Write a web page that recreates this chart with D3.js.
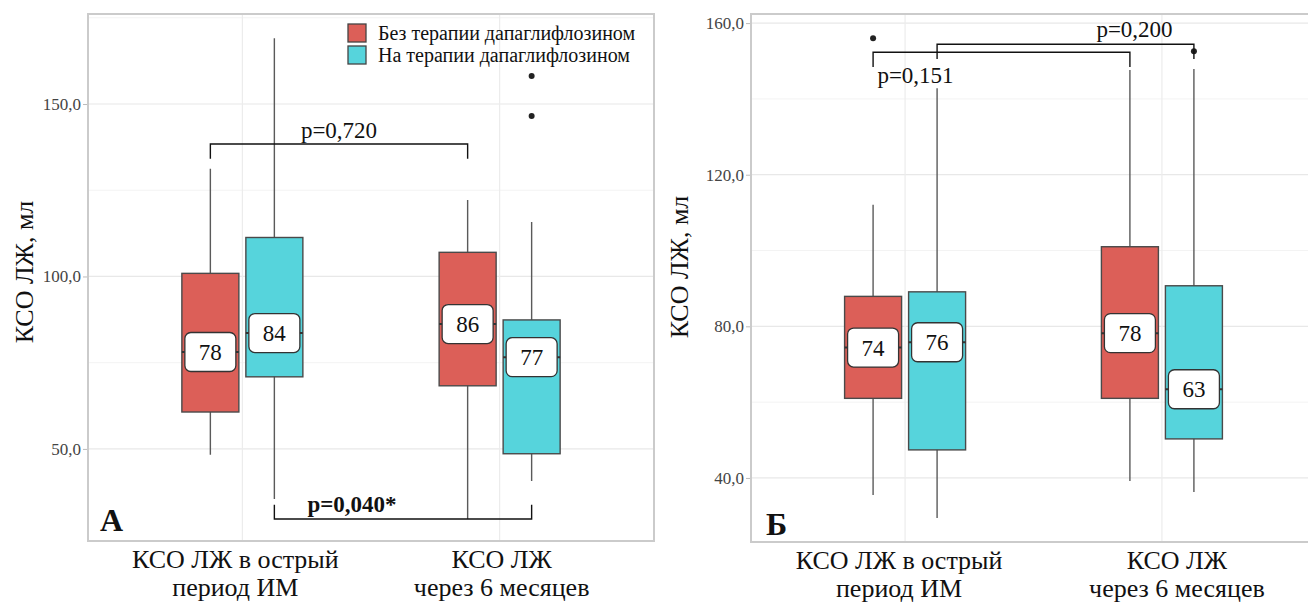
<!DOCTYPE html>
<html>
<head>
<meta charset="utf-8">
<script src="https://cdn.jsdelivr.net/npm/d3@7"></script>
<style>
	body { margin: 0; background: #fff; }
</style>
</head>
<body>
<svg id="chart" width="1308" height="603" font-family="Liberation Serif"></svg>
<script>

// categories and series
const groups = [['КСО ЛЖ в острый', 'период ИМ'], ['КСО ЛЖ', 'через 6 месяцев']];
const seriesNames = ['Без терапии дапаглифлозином', 'На терапии дапаглифлозином'];
const seriesColors = ['#dc5f58', '#56d4dc'];

// panel А: [lower whisker, Q1, median, Q3, upper whisker] per group
const aWithout = [[48.3, 60.7, 78.1, 100.9, 131.2], [29.7, 68.3, 86.2, 107.0, 122.2]];
const aWith = [[35.5, 70.9, 83.6, 111.3, 169.1], [40.7, 48.6, 76.6, 87.4, 115.8]];
const aOutWithout = [[], []];
const aOutWith = [[], [146.5, 158.1]];
const aTicks = [50, 100, 150];
const aMinor = [75, 125, 175];
const aDomain = [23.3, 176.1];
// [group1, series1, group2, series2, bar value, tip value, text value, text]
const aBrackets = [
	[0, 0, 1, 0, 138.4, 134.1, 140.1, 'p=0,720'],
	[0, 1, 1, 1, 29.7, 33.8, 31.7, 'p=0,040*']
];

// panel Б
const bWithout = [[35.5, 61.0, 74.4, 87.9, 112.1], [39.2, 61.0, 78.2, 101.0, 147.6]];
const bWith = [[29.4, 47.4, 75.8, 89.1, 142.8], [36.3, 50.3, 63.4, 90.7, 147.9]];
const bOutWithout = [[156.0], []];
const bOutWith = [[], [152.6]];
const bTicks = [40, 80, 120, 160];
const bMinor = [60, 100, 140];
const bDomain = [23.1, 162.4];
const bBrackets = [
	[0, 0, 1, 0, 152.3, 148.4, 144.2, 'p=0,151'],
	[0, 1, 1, 1, 154.4, 150.5, 156.3, 'p=0,200']
];

const FONT = 'Liberation Serif';

let svg = d3.select('#chart');
let ruFormat = d3.formatLocale({decimal: ',', thousands: ' ', grouping: [3], currency: ['', '']}).format('.1f');

function drawPanel(cfg) {

	let x = d3.scalePoint()
	.domain(d3.range(groups.length))
	.range([cfg.left, cfg.right])
	.padding(0.6);

	let y = d3.scaleLinear()
	.domain(cfg.domain)
	.range([cfg.bottom, cfg.top]);

	let g = svg.append('g');

	// clip to panel
	let clipId = 'clip' + cfg.id;
	svg.append('clipPath').attr('id', clipId)
	.append('rect')
	.attr('x', cfg.left).attr('y', cfg.top)
	.attr('width', cfg.right - cfg.left).attr('height', cfg.bottom - cfg.top);

	let plot = g.append('g').attr('clip-path', `url(#${clipId})`);

	plot.selectAll('.minor').data(cfg.minor).join('line')
	.attr('x1', cfg.left).attr('x2', cfg.right)
	.attr('y1', d => y(d)).attr('y2', d => y(d))
	.attr('stroke', '#f3f3f3').attr('stroke-width', 1);

	plot.selectAll('.major').data(cfg.ticks).join('line')
	.attr('x1', cfg.left).attr('x2', cfg.right)
	.attr('y1', d => y(d)).attr('y2', d => y(d))
	.attr('stroke', '#e8e8e8').attr('stroke-width', 1.2);

	plot.selectAll('.vgrid').data(d3.range(groups.length)).join('line')
	.attr('x1', d => x(d)).attr('x2', d => x(d))
	.attr('y1', cfg.top).attr('y2', cfg.bottom)
	.attr('stroke', '#ececec').attr('stroke-width', 1.2);

	let dodge = 32;
	let boxW = 57;

	cfg.series.forEach(function(stats, s) {
		let off = s === 0 ? -dodge : dodge;
		let bg = plot.append('g');
		stats.forEach(function(st, gi) {
			let cx = x(gi) + off;
			bg.append('line')
			.attr('x1', cx).attr('x2', cx)
			.attr('y1', y(st[0])).attr('y2', y(st[4]))
			.attr('stroke', '#5a5a5a').attr('stroke-width', 1.4);
			bg.append('rect')
			.attr('x', cx - boxW / 2).attr('width', boxW)
			.attr('y', y(st[3])).attr('height', y(st[1]) - y(st[3]))
			.attr('fill', seriesColors[s])
			.attr('stroke', '#4a4a4a').attr('stroke-width', 1.4);
			bg.append('line')
			.attr('x1', cx - boxW / 2).attr('x2', cx + boxW / 2)
			.attr('y1', y(st[2])).attr('y2', y(st[2]))
			.attr('stroke', '#333').attr('stroke-width', 2);
			bg.selectAll(null).data(cfg.outliers[s][gi]).join('circle')
			.attr('cx', cx).attr('cy', d => y(d)).attr('r', 3)
			.attr('fill', '#222');
			bg.append('rect')
			.attr('x', cx - 25.5).attr('width', 51)
			.attr('y', y(st[2]) - 19.5).attr('height', 39)
			.attr('rx', 6)
			.attr('fill', '#fff').attr('stroke', '#333').attr('stroke-width', 1.3);
			bg.append('text')
			.attr('x', cx).attr('y', y(st[2]) + 8)
			.attr('text-anchor', 'middle')
			.attr('font-family', FONT)
			.attr('font-size', 23)
			.attr('fill', '#111')
			.text(d3.format('.0f')(st[2]));
		});
	});

	// significance brackets
	cfg.brackets.forEach(function(b, i) {
		let x1 = x(b[0]) + (b[1] === 0 ? -dodge : dodge);
		let x2 = x(b[2]) + (b[3] === 0 ? -dodge : dodge);
		g.append('path')
		.attr('d', `M${x1},${y(b[5])}V${y(b[4])}H${x2}V${y(b[5])}`)
		.attr('fill', 'none').attr('stroke', '#111').attr('stroke-width', 1.4);
		g.append('text')
		.attr('x', (x1 + x2) / 2 + cfg.textShift[i])
		.attr('y', y(b[6]))
		.attr('text-anchor', 'middle')
		.attr('font-family', FONT)
		.attr('font-size', 23)
		.attr('font-weight', cfg.boldText[i] ? 'bold' : 'normal')
		.attr('fill', '#111')
		.text(b[7]);
	});

	// panel border
	g.append('rect')
	.attr('x', cfg.left).attr('y', cfg.top)
	.attr('width', cfg.right - cfg.left).attr('height', cfg.bottom - cfg.top)
	.attr('fill', 'none').attr('stroke', '#cbcbcb').attr('stroke-width', 2);

	// y axis
	let yAxis = g.append('g')
	.attr('transform', `translate(${cfg.left - 1},0)`)
	.call(d3.axisLeft(y).tickValues(cfg.ticks).tickFormat(ruFormat).tickSize(4).tickPadding(2));
	yAxis.attr('font-family', FONT);
	yAxis.select('.domain').remove();
	yAxis.selectAll('line').attr('stroke', '#bbb');
	yAxis.selectAll('text')
	.attr('font-size', 17)
	.attr('font-family', FONT)
	.attr('fill', '#444');

	// x labels
	groups.forEach(function(lines, gi) {
		let t = g.append('text')
		.attr('text-anchor', 'middle')
		.attr('font-family', FONT)
		.attr('font-size', 26)
		.attr('fill', '#111');
		lines.forEach(function(line, li) {
			t.append('tspan')
			.attr('x', x(gi) + cfg.labelShift[gi])
			.attr('y', cfg.bottom + 27 + li * 28)
			.text(line);
		});
	});

	g.append('text')
	.attr('transform', `translate(${cfg.titleX},${cfg.titleY}) rotate(-90)`)
	.attr('text-anchor', 'middle')
	.attr('font-family', FONT)
	.attr('font-size', 26)
	.attr('fill', '#111')
	.text('КСО ЛЖ, мл');

	g.append('text')
	.attr('x', cfg.left + cfg.tagX)
	.attr('y', cfg.bottom - cfg.tagY)
	.attr('font-family', FONT)
	.attr('font-size', 32)
	.attr('font-weight', 'bold')
	.attr('fill', '#111')
	.text(cfg.name);

	return g;
}

let panelA = drawPanel({
	id: 'a', name: 'А', left: 88, right: 654, top: 14, bottom: 541,
	domain: aDomain, ticks: aTicks, minor: aMinor,
	series: [aWithout, aWith], outliers: [aOutWithout, aOutWith],
	brackets: aBrackets, textShift: [0, -51], boldText: [false, true],
	labelShift: [-7, 2], tagX: 12, tagY: 10,
	titleX: 33, titleY: 272
});

drawPanel({
	id: 'b', name: 'Б', left: 751, right: 1316, top: 14, bottom: 542,
	domain: bDomain, ticks: bTicks, minor: bMinor,
	series: [bWithout, bWith], outliers: [bOutWithout, bOutWith],
	brackets: bBrackets, textShift: [-86, 69], boldText: [false, false],
	labelShift: [-6, 15], tagX: 15, tagY: 7,
	titleX: 688, titleY: 267
});

// legend inside panel А
let legend = panelA.append('g');
seriesNames.forEach(function(name, i) {
	legend.append('rect')
	.attr('x', 348).attr('y', 24 + i * 22)
	.attr('width', 18).attr('height', 18)
	.attr('fill', seriesColors[i])
	.attr('stroke', '#444').attr('stroke-width', 1.3);
	legend.append('text')
	.attr('x', 378).attr('y', 40 + i * 22)
	.attr('font-family', FONT)
	.attr('font-size', 20)
	.attr('fill', '#111')
	.text(name);
});

</script>
</body>
</html>
